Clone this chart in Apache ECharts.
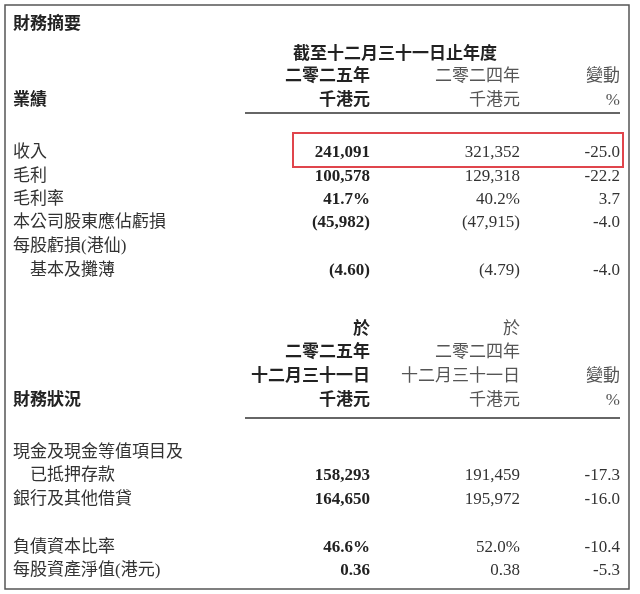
<!DOCTYPE html>
<html>
<head>
<meta charset="utf-8" />
<script src="https://cdn.jsdelivr.net/npm/echarts@6/dist/echarts.min.js"></script>
<style>html,body{margin:0;padding:0;background:#fff}#main{width:640px;height:594px}</style>
</head>
<body>
<div id="main"></div>
<script>
// 業績
var perfLabels = ['收入', '毛利', '毛利率', '本公司股東應佔虧損', '每股虧損(港仙)', '　基本及攤薄'];
var perf2025 = ['241,091', '100,578', '41.7%', '(45,982)', '', '(4.60)'];
var perf2024 = ['321,352', '129,318', '40.2%', '(47,915)', '', '(4.79)'];
var perfChange = ['-25.0', '-22.2', '3.7', '-4.0', '', '-4.0'];
var perfRowY = [153, 177, 200, 223, 247, 271];

// 財務狀況
var posLabels = ['現金及現金等值項目及', '　已抵押存款', '銀行及其他借貸', '負債資本比率', '每股資產淨值(港元)'];
var pos2025 = ['', '158,293', '164,650', '46.6%', '0.36'];
var pos2024 = ['', '191,459', '195,972', '52.0%', '0.38'];
var posChange = ['', '-17.3', '-16.0', '-10.4', '-5.3'];
var posRowY = [453, 476, 500, 548, 571];

var FONT = '"Liberation Serif", "Noto Sans CJK TC", serif';
var COLX = [370, 520, 620];
var els = [];

function txt(s, x, y, align, bold, color) {
    els.push({
        type: 'text', x: x, y: y,
        style: {
            text: s, fill: color || '#222', font: (bold ? 'bold ' : '') + '17px ' + FONT,
            textAlign: align || 'left', textVerticalAlign: 'middle'
        }
    });
}
function line(x1, y1, x2, y2, w, c) {
    els.push({ type: 'line', shape: { x1: x1, y1: y1, x2: x2, y2: y2 }, style: { stroke: c || '#666', lineWidth: w || 1.5 } });
}

// 外框
els.push({ type: 'rect', shape: { x: 5, y: 5, width: 624, height: 584 }, style: { fill: 'none', stroke: '#555', lineWidth: 1.5 } });

txt('財務摘要', 13, 25, 'left', true);
txt('截至十二月三十一日止年度', 395, 55, 'center', true);
txt('二零二五年', COLX[0], 77, 'right', true);
txt('二零二四年', COLX[1], 77, 'right', false, '#555');
txt('變動', COLX[2], 77, 'right', false, '#555');
txt('業績', 13, 101, 'left', true);
txt('千港元', COLX[0], 101, 'right', true);
txt('千港元', COLX[1], 101, 'right', false, '#555');
txt('%', COLX[2], 101, 'right', false, '#555');
line(245, 113, 620, 113, 1.8);

perfLabels.forEach(function (l, i) {
    var y = perfRowY[i];
    txt(l, 13, y, 'left', false, '#333');
    txt(perf2025[i], COLX[0], y, 'right', true);
    txt(perf2024[i], COLX[1], y, 'right', false, '#333');
    txt(perfChange[i], COLX[2], y, 'right', false, '#333');
});

els.push({ type: 'rect', shape: { x: 293, y: 133, width: 330, height: 34 }, style: { fill: 'none', stroke: '#e0454c', lineWidth: 2 } });

txt('於', COLX[0], 330, 'right', true);
txt('於', COLX[1], 330, 'right', false, '#555');
txt('二零二五年', COLX[0], 353, 'right', true);
txt('二零二四年', COLX[1], 353, 'right', false, '#555');
txt('十二月三十一日', COLX[0], 377, 'right', true);
txt('十二月三十一日', COLX[1], 377, 'right', false, '#555');
txt('變動', COLX[2], 377, 'right', false, '#555');
txt('財務狀況', 13, 401, 'left', true);
txt('千港元', COLX[0], 401, 'right', true);
txt('千港元', COLX[1], 401, 'right', false, '#555');
txt('%', COLX[2], 401, 'right', false, '#555');
line(245, 418, 620, 418, 1.8);

posLabels.forEach(function (l, i) {
    var y = posRowY[i];
    txt(l, 13, y, 'left', false, '#333');
    txt(pos2025[i], COLX[0], y, 'right', true);
    txt(pos2024[i], COLX[1], y, 'right', false, '#333');
    txt(posChange[i], COLX[2], y, 'right', false, '#333');
});

var chart = echarts.init(document.getElementById('main'));
chart.setOption({ backgroundColor: '#fff', graphic: { elements: els } });
</script>
</body>
</html>
